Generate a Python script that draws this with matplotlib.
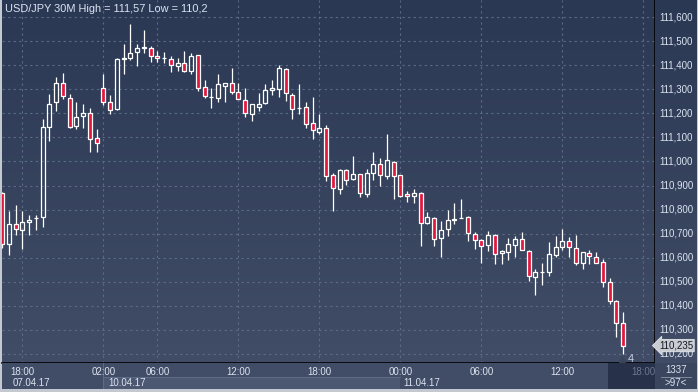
import numpy as np
import matplotlib.pyplot as plt
from matplotlib.colors import LinearSegmentedColormap
from matplotlib.patches import Rectangle

# USD/JPY 30M candles (open, high, low, close)
opens = [110.867, 110.657, 110.742, 110.714, 110.747, 110.765, 110.770, 111.143, 111.245, 111.328,
         111.265, 111.147, 111.189, 111.203, 111.099, 111.304, 111.249, 111.217, 111.425, 111.428,
         111.453, 111.470, 111.471, 111.440, 111.428, 111.424, 111.395, 111.411, 111.374, 111.443,
         111.311, 111.268, 111.265, 111.315, 111.328, 111.290, 111.254, 111.199, 111.228, 111.242,
         111.296, 111.300, 111.386, 111.276, 111.222, 111.228, 111.161, 111.124, 111.140, 110.942,
         110.886, 110.963, 110.928, 110.946, 110.865, 110.950, 110.988, 110.939, 110.999, 110.942,
         110.865, 110.855, 110.870, 110.745, 110.765, 110.682, 110.720, 110.758, 110.765, 110.770,
         110.699, 110.674, 110.651, 110.696, 110.618, 110.624, 110.651, 110.679, 110.629, 110.520,
         110.540, 110.539, 110.613, 110.645, 110.670, 110.640, 110.578, 110.620, 110.603, 110.582,
         110.499, 110.421, 110.328]
highs = [110.875, 110.793, 110.821, 110.793, 110.779, 110.779, 111.175, 111.279, 111.349, 111.367,
         111.279, 111.245, 111.238, 111.220, 111.136, 111.363, 111.275, 111.429, 111.488, 111.571,
         111.488, 111.546, 111.478, 111.457, 111.453, 111.439, 111.429, 111.457, 111.449, 111.443,
         111.338, 111.304, 111.363, 111.328, 111.388, 111.328, 111.307, 111.240, 111.286, 111.321,
         111.338, 111.400, 111.390, 111.286, 111.321, 111.245, 111.268, 111.196, 111.150, 110.953,
         110.967, 110.970, 111.022, 110.946, 110.967, 111.040, 111.015, 111.113, 111.000, 110.945,
         110.879, 110.886, 110.872, 110.789, 110.770, 110.754, 110.800, 110.828, 110.842, 110.775,
         110.705, 110.676, 110.710, 110.700, 110.633, 110.682, 110.689, 110.707, 110.632, 110.554,
         110.578, 110.664, 110.692, 110.721, 110.685, 110.696, 110.624, 110.633, 110.624, 110.596,
         110.515, 110.425, 110.374]
lows = [110.640, 110.612, 110.693, 110.638, 110.693, 110.714, 110.726, 111.085, 111.210, 111.261,
        111.140, 111.133, 111.140, 111.039, 111.039, 111.235, 111.199, 111.215, 111.363, 111.421,
        111.397, 111.449, 111.415, 111.415, 111.407, 111.370, 111.374, 111.370, 111.365, 111.293,
        111.265, 111.221, 111.245, 111.249, 111.279, 111.258, 111.185, 111.168, 111.210, 111.238,
        111.276, 111.268, 111.251, 111.178, 111.199, 111.138, 111.092, 111.113, 110.918, 110.793,
        110.863, 110.901, 110.921, 110.851, 110.853, 110.921, 110.897, 110.925, 110.842, 110.852,
        110.830, 110.828, 110.647, 110.742, 110.647, 110.605, 110.689, 110.740, 110.765, 110.671,
        110.638, 110.576, 110.626, 110.574, 110.574, 110.592, 110.601, 110.630, 110.505, 110.446,
        110.488, 110.522, 110.605, 110.630, 110.605, 110.568, 110.554, 110.574, 110.578, 110.480,
        110.407, 110.272, 110.200]
closes = [110.658, 110.742, 110.720, 110.749, 110.757, 110.765, 111.145, 111.240, 111.328, 111.270,
          111.143, 111.186, 111.203, 111.095, 111.078, 111.245, 111.214, 111.425, 111.428, 111.449,
          111.471, 111.474, 111.440, 111.428, 111.428, 111.399, 111.410, 111.374, 111.439, 111.304,
          111.270, 111.268, 111.321, 111.328, 111.290, 111.261, 111.203, 111.238, 111.240, 111.296,
          111.304, 111.390, 111.286, 111.217, 111.222, 111.154, 111.129, 111.140, 110.939, 110.890,
          110.963, 110.922, 110.946, 110.870, 110.950, 110.988, 110.943, 111.004, 110.939, 110.855,
          110.858, 110.867, 110.745, 110.768, 110.679, 110.715, 110.758, 110.760, 110.765, 110.703,
          110.674, 110.647, 110.696, 110.615, 110.628, 110.657, 110.679, 110.632, 110.525, 110.540,
          110.540, 110.617, 110.645, 110.670, 110.645, 110.578, 110.624, 110.607, 110.578, 110.501,
          110.421, 110.328, 110.235]

price_ticks = [110.2, 110.3, 110.4, 110.5, 110.6, 110.7, 110.8, 110.9,
               111.0, 111.1, 111.2, 111.3, 111.4, 111.5, 111.6]
time_ticks = [3, 15, 23, 35, 47, 59, 71, 83, 95]
time_labels = ['18:00', '02:00', '06:00', '12:00', '18:00', '00:00', '06:00', '12:00', '18:00']
day_labels = ['07.04.17', '10.04.17', '11.04.17']
day_label_x = [1.6, 15.7, 59.4]
day_band = (15, 59)
last_price = 110.235

W, H = 698, 392
def px_rect(x0, y0, x1, y1):
    return [x0 / W, 1 - y1 / H, (x1 - x0) / W, (y1 - y0) / H]

RED = '#e3173e'
TXT = '#dbe3f0'
FONT = 'Liberation Sans'
bg_cmap = LinearSegmentedColormap.from_list('bg', ['#414d66', '#2b3854'])

fig = plt.figure(figsize=(6.98, 3.92), dpi=100, facecolor='#c4c9d1')
ax = fig.add_axes(px_rect(2, 0, 655, 363))
ax_r = fig.add_axes(px_rect(655, 0, 697, 363))
ax_b = fig.add_axes(px_rect(2, 363, 655, 389))
ax_c = fig.add_axes(px_rect(655, 363, 697, 389))

xlim = (-0.01, 96.73)
ylim = (110.1625, 111.6708)
grad = np.linspace(0, 1, 256).reshape(-1, 1)

# main panel
ax.imshow(grad, extent=[xlim[0], xlim[1], ylim[1], ylim[0]], aspect='auto',
          cmap=bg_cmap, zorder=0)
ax.set_xlim(*xlim)
ax.set_ylim(*ylim)
ax.set_yticks(price_ticks)
ax.set_xticks(time_ticks)
ax.tick_params(left=False, bottom=False, labelleft=False, labelbottom=False)
ax.grid(True, color='#5d6b88', lw=0.8, ls=(0, (2, 3)), zorder=1)
for s in ['top', 'left']:
    ax.spines[s].set_visible(False)
for s in ['right', 'bottom']:
    ax.spines[s].set_color('black')
    ax.spines[s].set_linewidth(1.2)

o = np.array(opens)
h = np.array(highs)
l = np.array(lows)
c = np.array(closes)
x = np.arange(len(o))
top = np.maximum(o, c)
bot = np.minimum(o, c)
up = c >= o
ax.vlines(x, top, h, color='white', lw=0.9, zorder=3)
ax.vlines(x, l, bot, color='white', lw=0.9, zorder=3)
ax.bar(x, np.maximum(top - bot, 0.0008), bottom=bot, width=0.6,
       color=['none' if u else RED for u in up], edgecolor='white', linewidth=0.9, zorder=4)

ax.plot(x[-1] - 0.2, l[-1] - 0.022, marker='^', color='#3b4558', ms=5, zorder=5)
ax.text(x[-1] + 0.7, l[-1] - 0.02, '4', color='#c5cee0', fontsize=8, family=FONT,
        va='center', ha='left', zorder=5)

ax.text(0.004, 0.99, 'USD/JPY 30M High = 111,57 Low = 110,2', transform=ax.transAxes,
        ha='left', va='top', color=TXT, fontsize=7.9, family=FONT, zorder=6)

# right price scale
ax_r.imshow(grad, extent=[0, 1, ylim[1], ylim[0]], aspect='auto', cmap=bg_cmap, zorder=0)
ax_r.set_xlim(0, 1)
ax_r.set_ylim(*ylim)
ax_r.axis('off')
for p in price_ticks:
    ax_r.text(0.5, p, f'{p:.3f}'.replace('.', ','), ha='center', va='center',
              color=TXT, fontsize=7, family=FONT, zorder=2)
ax_r.text(0.5, last_price, f'{last_price:.3f}'.replace('.', ','), ha='center', va='center',
          color='#111820', fontsize=7, family=FONT, zorder=5,
          bbox=dict(boxstyle='larrow,pad=0.12', fc='#c9cdd3', ec='#e4e7ea', lw=0.6))

# bottom time scale
ax_b.set_facecolor('#414d66')
ax_b.set_xlim(*xlim)
ax_b.set_ylim(0, 1)
ax_b.set_xticks([])
ax_b.set_yticks([])
for s in ax_b.spines.values():
    s.set_visible(False)
ax_b.add_patch(Rectangle((day_band[0], 0), day_band[1] - day_band[0], 0.46,
                         fc='#4c5872', ec='none', zorder=1))
ax_b.plot(day_band, [0.46, 0.46], color='#5e6b86', lw=0.8, zorder=2)
ax_b.plot([day_band[0], day_band[0]], [0, 1], color='#5e6b86', lw=0.8, zorder=2)
ax_b.add_patch(Rectangle((time_ticks[-1] - 5.3, 0), 10, 1, fc='#27324a', ec='none', zorder=1))
for t, lab in zip(time_ticks, time_labels):
    col = '#6d7890' if t > len(o) else TXT
    ax_b.text(t, 0.66, lab, ha='center', va='center', color=col, fontsize=7, family=FONT, zorder=3)
for xd, lab in zip(day_label_x, day_labels):
    ax_b.text(xd, 0.24, lab, ha='left', va='center', color=TXT, fontsize=7, family=FONT, zorder=3)

# corner box
ax_c.set_facecolor('#3a465e')
ax_c.set_xlim(0, 1)
ax_c.set_ylim(0, 1)
ax_c.set_xticks([])
ax_c.set_yticks([])
for s in ax_c.spines.values():
    s.set_visible(False)
ax_c.text(0.5, 0.73, '1337', ha='center', va='center', color=TXT, fontsize=7, family=FONT)
ax_c.plot([0.15, 0.85], [0.46, 0.46], color='#8c97ab', lw=0.6)
ax_c.text(0.5, 0.23, '>97<', ha='center', va='center', color=TXT, fontsize=7, family=FONT)

fig.savefig('out.png', dpi=100, facecolor=fig.get_facecolor())
